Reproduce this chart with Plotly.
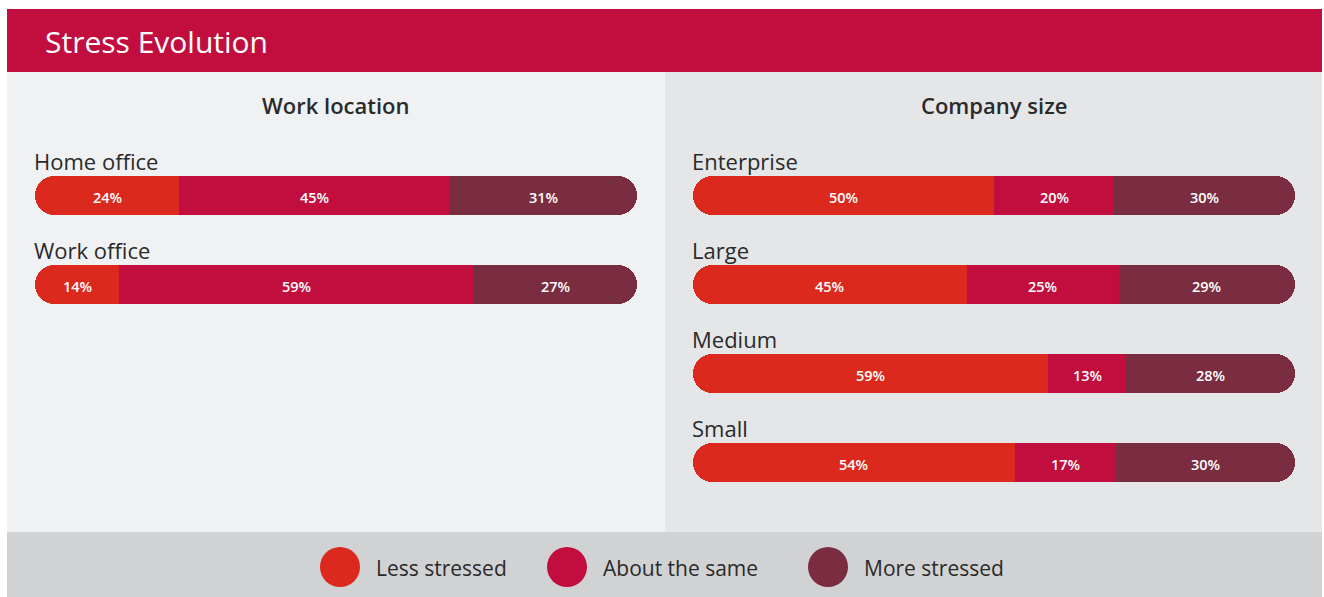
import plotly.graph_objects as go

# ---- data ----
work_locations = ["Home office", "Work office"]
loc_less = [24, 14]
loc_same = [45, 59]
loc_more = [31, 27]

company_sizes = ["Enterprise", "Large", "Medium", "Small"]
size_less = [50, 45, 59, 54]
size_same = [20, 25, 13, 17]
size_more = [30, 29, 28, 30]

series_names = ["Less stressed", "About the same", "More stressed"]

# ---- styling ----
W, H = 1324, 597
FONT = "Open Sans"
C_LESS = "#db291e"
C_SAME = "#c10e3e"
C_MORE = "#7a2d41"
C_HEADER = "#c10e3e"
C_LEFT_BG = "#f0f1f3"
C_RIGHT_BG = "#e5e6e8"
C_LEGEND_BG = "#d1d2d4"
TEXT_DARK = "#2a2a2a"
ROW_PX = 89          # vertical pitch of the rows
BAR_PX = 39          # bar thickness


def fx(px):
    return px / W


def fy(py):
    return 1 - py / H


fig = go.Figure()
annotations = []
shapes = []


def add_panel(cats, less, same, more, xa, ya):
    ys = list(range(len(cats)))
    totals = [a + b + c for a, b, c in zip(less, same, more)]
    s1 = [a / t * 100 for a, t in zip(less, totals)]
    s2 = [b / t * 100 for b, t in zip(same, totals)]
    s3 = [c / t * 100 for c, t in zip(more, totals)]
    mid = [a + b / 2 for a, b in zip(s1, s2)]          # middle of the centre segment
    bar = dict(orientation="h", width=BAR_PX / ROW_PX, xaxis=xa, yaxis=ya,
               showlegend=False, hoverinfo="skip")
    # outer segments reach into the centre one; their inner rounded ends are covered by it
    fig.add_trace(go.Bar(y=ys, x=[-m for m in mid], base=mid, name=series_names[0],
                         marker=dict(color=C_LESS, cornerradius="50%", line=dict(width=0)), **bar))
    fig.add_trace(go.Bar(y=ys, x=[100 - m for m in mid], base=mid, name=series_names[2],
                         marker=dict(color=C_MORE, cornerradius="50%", line=dict(width=0)), **bar))
    fig.add_trace(go.Bar(y=ys, x=s2, base=s1, name=series_names[1],
                         marker=dict(color=C_SAME, cornerradius=0, line=dict(width=0)), **bar))
    # percentage labels centred on each visible segment
    for i in ys:
        centres = [s1[i] / 2, s1[i] + s2[i] / 2, s1[i] + s2[i] + s3[i] / 2]
        labels = [f"{less[i]}%", f"{same[i]}%", f"{more[i]}%"]
        for cx, lab in zip(centres, labels):
            annotations.append(dict(x=cx, y=i, xref=xa, yref=ya, text=lab, showarrow=False,
                                    xanchor="center", yanchor="middle", yshift=-2,
                                    font=dict(family=FONT, size=14.5, color="white", weight=600)))
    # row labels sit above each bar
    for i, c in enumerate(cats):
        annotations.append(dict(x=0, y=i, xref=xa, yref=ya, text=c, showarrow=False,
                                xanchor="left", yanchor="middle", yshift=35, xshift=-3,
                                font=dict(family=FONT, size=22, color=TEXT_DARK)))


add_panel(work_locations, loc_less, loc_same, loc_more, "x", "y")
add_panel(company_sizes, size_less, size_same, size_more, "x2", "y2")

top_px = 151
ax_common = dict(visible=False, fixedrange=True)
fig.update_layout(
    xaxis=dict(domain=[fx(35), fx(637)], range=[0, 100], **ax_common),
    yaxis=dict(domain=[fy(top_px + ROW_PX * len(work_locations)), fy(top_px)],
               range=[len(work_locations) - 0.5, -0.5], **ax_common),
    xaxis2=dict(domain=[fx(693), fx(1295)], range=[0, 100], **ax_common),
    yaxis2=dict(domain=[fy(top_px + ROW_PX * len(company_sizes)), fy(top_px)],
                range=[len(company_sizes) - 0.5, -0.5], **ax_common),
)

# background blocks
blocks = [
    (7, 9, 1322, 72, C_HEADER),
    (7, 72, 665, 532, C_LEFT_BG),
    (665, 72, 1322, 532, C_RIGHT_BG),
    (7, 532, 1322, 597, C_LEGEND_BG),
]
for a, b, c, d, col in blocks:
    shapes.append(dict(type="rect", xref="paper", yref="paper", x0=fx(a), y0=fy(d), x1=fx(c), y1=fy(b),
                       fillcolor=col, line=dict(width=0), layer="below"))

annotations += [
    dict(x=fx(43), y=fy(42), xref="paper", yref="paper", text="Stress Evolution", showarrow=False,
         xanchor="left", yanchor="middle", font=dict(family=FONT, size=30, color="white", weight=500)),
    dict(x=fx(336), y=fy(105), xref="paper", yref="paper", text="Work location", showarrow=False,
         xanchor="center", yanchor="middle", font=dict(family=FONT, size=22, color=TEXT_DARK, weight=600)),
    dict(x=fx(994), y=fy(105), xref="paper", yref="paper", text="Company size", showarrow=False,
         xanchor="center", yanchor="middle", font=dict(family=FONT, size=22, color=TEXT_DARK, weight=600)),
]

# legend keys
legend_x = [340, 567, 828]
for cx, name, col in zip(legend_x, series_names, [C_LESS, C_SAME, C_MORE]):
    shapes.append(dict(type="circle", xref="paper", yref="paper",
                       x0=fx(cx - 20), x1=fx(cx + 20), y0=fy(587), y1=fy(547),
                       fillcolor=col, line=dict(width=0), layer="above"))
    annotations.append(dict(x=fx(cx + 34), y=fy(568), xref="paper", yref="paper", text=name,
                            showarrow=False, xanchor="left", yanchor="middle",
                            font=dict(family=FONT, size=21, color=TEXT_DARK)))

fig.update_layout(
    width=W, height=H, margin=dict(l=0, r=0, t=0, b=0),
    paper_bgcolor="white", plot_bgcolor="rgba(0,0,0,0)",
    barmode="overlay", bargap=0, bargroupgap=0,
    shapes=shapes, annotations=annotations,
    font=dict(family=FONT), showlegend=False,
)

fig.write_html("out.html", config=dict(displayModeBar=False))
